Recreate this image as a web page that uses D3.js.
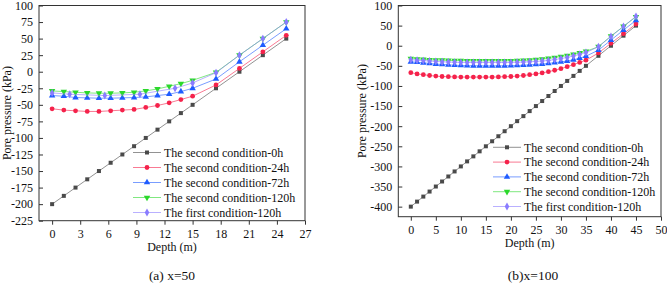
<!DOCTYPE html>
<html><head><meta charset="UTF-8">
<style>
body { margin: 0; background: #fff; }
svg { display: block; font-family: "Liberation Serif", "Times New Roman", serif; }
.axis line { stroke: #333; }
.frame { fill: none; stroke: #333; stroke-width: 1; }
.line { fill: none; stroke-width: 1; stroke-opacity: 0.6; }
</style>
</head>
<body>
<svg width="667" height="284"></svg>
<script src="https://cdn.jsdelivr.net/npm/d3@7"></script>
<script>

var seriesNames = ["The second condition-0h", "The second condition-24h", "The second condition-72h",
                   "The second condition-120h", "The first condition-120h"];
var colors = ["#4a4a4a", "#f5224b", "#1f5cff", "#2bd82b", "#8a7cff"];
var symbols = [d3.symbolSquare, d3.symbolCircle, d3.symbolTriangle, "down", d3.symbolDiamond];
var serif = "'Liberation Serif', 'Times New Roman', serif";

// panel (a) x=50
var leftDepth = [0, 1.25, 2.5, 3.75, 5, 6.25, 7.5, 8.75, 10, 11.25, 12.5, 13.75, 15, 17.5, 20, 22.5, 25];
var leftH0   = [-200, -187.5, -175, -162.5, -150, -137.5, -125, -112.5, -100, -87.5, -75, -62.5, -50, -25, 0, 25, 50];
var leftH24  = [-56, -58, -59, -60, -60, -59, -58, -57, -54, -51, -47, -42, -37, -20, 5, 30, 55];
var leftH72  = [-36, -37, -39, -39.5, -40, -40, -39.5, -39, -38, -36, -34, -30, -25, -11, 15, 40, 65];
var leftH120 = [-29, -30, -31, -32, -32.5, -32.5, -32, -31, -29, -26, -22, -18, -13, -1, 25, 50, 75];
var leftFirstDepth = [0, 1.875, 5.625, 9.375, 13.125, 15, 17.5, 20, 22.5, 25];
var leftFirst120   = [-32, -34, -36, -34, -25, -17, -1.5, 25, 50, 75];
var leftXTicks = [0, 3, 6, 9, 12, 15, 18, 21, 24, 27];
var leftYTicks = [-225, -200, -175, -150, -125, -100, -75, -50, -25, 0, 25, 50, 75, 100];

// panel (b) x=100
var rightDepth = [0, 1.25, 2.5, 3.75, 5, 6.25, 7.5, 8.75, 10, 11.25, 12.5, 13.75, 15, 16.25, 17.5, 18.75, 20,
                  21.25, 22.5, 23.75, 25, 26.25, 27.5, 28.75, 30, 31.25, 32.5, 33.75, 35, 37.5, 40, 42.5, 45];
var rightH0   = [-400, -387.5, -375, -362.5, -350, -337.5, -325, -312.5, -300, -287.5, -275, -262.5, -250, -237.5, -225, -212.5, -200,
                 -187.5, -175, -162.5, -150, -137.5, -125, -112.5, -100, -87.5, -75, -62.5, -50, -25, 0, 25, 50];
var rightH24  = [-67, -70, -72, -74, -75.5, -76.5, -77, -77.5, -78, -78, -78, -78, -78, -78, -77.5, -77, -76.5,
                 -75.5, -74, -72, -70, -67.5, -64.5, -61, -57, -52, -47, -41.5, -36, -18, 6, 30, 54];
var rightH72  = [-40, -41, -42.5, -44, -45.5, -46.5, -47.5, -48.5, -49, -49.5, -50, -50, -50, -50, -50, -50, -49.5,
                 -49, -48.5, -47.5, -46.5, -45.5, -44, -42, -40, -38, -35, -31, -26, -11, 14, 39, 63];
var rightH120 = [-32, -33, -34, -35, -35.5, -36, -36.5, -37, -37, -37.5, -37.5, -37.5, -37.5, -37.5, -37.5, -37.5, -37.5,
                 -37, -36.5, -35.5, -34.5, -33, -31.5, -29.5, -27, -24.5, -21.5, -18, -14, -2.5, 24, 48, 72];
var rightFirst120 = [-35, -36, -37, -38, -39, -40, -40.5, -41, -41.5, -41.5, -41.5, -41.5, -41.5, -41.5, -41.5, -41.5, -41.5,
                     -41, -40.5, -40, -39, -38, -36.5, -34.5, -32, -29, -25.5, -21.5, -17, -2.5, 23, 48, 73];
var rightXTicks = [0, 5, 10, 15, 20, 25, 30, 35, 40, 45, 50];
var rightYTicks = [-400, -350, -300, -250, -200, -150, -100, -50, 0, 50, 100];

function zip(xs, ys) { return xs.map(function(d, i) { return {x: d, y: ys[i]}; }); }

var svg = d3.select("svg");

function marker(sel, k) {
  if (symbols[k] === "down") {
    sel.attr("d", d3.symbol().type(d3.symbolTriangle).size(18)())
       .attr("transform", function() { return d3.select(this).attr("transform") + " rotate(180)"; });
  } else {
    sel.attr("d", d3.symbol().type(symbols[k]).size(k === 0 ? 16 : 18)());
  }
}

function styleAxis(a) {
  a.select(".domain").remove();
  a.attr("font-family", serif).attr("font-size", 12);
  a.selectAll("text").style("font-family", serif).style("font-size", "12px").style("fill", "#111");
}

function drawPanel(p) {
  var x = d3.scaleLinear().domain(p.xDomain).range([p.left, p.right]),
      y = d3.scaleLinear().domain(p.yDomain).range([p.bottom, p.top]);
  var g = svg.append("g");

  g.append("g")
      .attr("class", "axis")
      .attr("transform", "translate(0," + p.bottom + ")")
      .call(d3.axisBottom(x).tickValues(p.xTicks).tickSize(4).tickSizeOuter(0).tickPadding(5)
            .tickFormat(function(d) { return String(d); }))
      .call(styleAxis);

  g.append("g")
      .attr("class", "axis")
      .attr("transform", "translate(" + p.left + ",0)")
      .call(d3.axisLeft(y).tickValues(p.yTicks).tickSize(-4).tickSizeOuter(0).tickPadding(6)
            .tickFormat(function(d) { return String(d); }))
      .call(styleAxis);

  g.append("rect")
      .attr("class", "frame")
      .attr("x", p.left).attr("y", p.top)
      .attr("width", p.right - p.left).attr("height", p.bottom - p.top);

  var line = d3.line().x(function(d) { return x(d.x); }).y(function(d) { return y(d.y); });

  p.series.forEach(function(s, k) {
    g.append("path")
        .attr("class", "line")
        .attr("d", line(s))
        .style("stroke", colors[k]);
    g.selectAll(".m" + k)
      .data(s)
      .enter().append("path")
        .attr("class", "m" + k)
        .attr("transform", function(d) { return "translate(" + x(d.x) + "," + y(d.y) + ")"; })
        .style("fill", colors[k])
        .call(marker, k);
  });

  // legend
  seriesNames.forEach(function(name, k) {
    var ly = p.legY + k * p.legStep;
    g.append("line")
        .attr("x1", p.legX).attr("x2", p.legX + 28)
        .attr("y1", ly).attr("y2", ly)
        .style("stroke", colors[k]).style("stroke-opacity", 0.6);
    g.append("path")
        .attr("transform", "translate(" + (p.legX + 14) + "," + ly + ")")
        .style("fill", colors[k])
        .call(marker, k);
    g.append("text")
        .attr("x", p.legX + 31).attr("y", ly).attr("dy", "0.35em")
        .style("font-size", "12px").style("fill", "#111")
        .text(name);
  });

  g.append("text")
      .attr("x", (p.left + p.right) / 2).attr("y", p.bottom + 30)
      .attr("text-anchor", "middle").style("font-size", "12px").style("fill", "#111")
      .text("Depth (m)");

  g.append("text")
      .attr("transform", "translate(" + p.yTitleX + "," + (p.top + p.bottom) / 2 + ") rotate(-90)")
      .attr("text-anchor", "middle").style("font-size", "12px").style("fill", "#111")
      .text("Pore pressure (kPa)");

  g.append("text")
      .attr("x", p.capX).attr("y", 280)
      .attr("text-anchor", "middle").style("font-size", "13.5px").style("fill", "#111")
      .text(p.caption);
}

drawPanel({
  left: 39, right: 305, top: 5.5, bottom: 220.7,
  xDomain: [-1.4, 27], yDomain: [-225, 100],
  xTicks: leftXTicks, yTicks: leftYTicks,
  series: [zip(leftDepth, leftH0), zip(leftDepth, leftH24), zip(leftDepth, leftH72),
           zip(leftDepth, leftH120), zip(leftFirstDepth, leftFirst120)],
  legX: 133, legY: 152.5, legStep: 15,
  yTitleX: 11, capX: 172, caption: "(a) x=50"
});

drawPanel({
  left: 398.3, right: 661, top: 5.5, bottom: 216.7,
  xDomain: [-2.5, 50], yDomain: [-425, 100],
  xTicks: rightXTicks, yTicks: rightYTicks,
  series: [zip(rightDepth, rightH0), zip(rightDepth, rightH24), zip(rightDepth, rightH72),
           zip(rightDepth, rightH120), zip(rightDepth, rightFirst120)],
  legX: 493, legY: 147.3, legStep: 14.8,
  yTitleX: 366, capX: 533, caption: "(b)x=100"
});

</script>
</body></html>
